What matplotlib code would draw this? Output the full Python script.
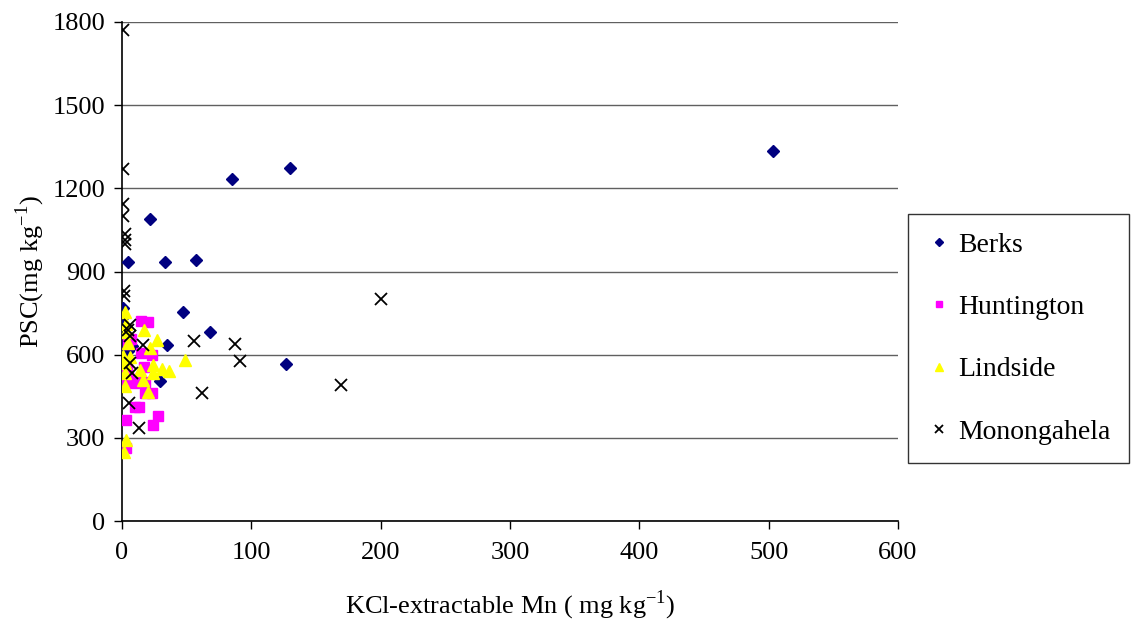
import matplotlib.pyplot as plt

plt.rcParams['font.family'] = ['Liberation Serif', 'DejaVu Serif']
plt.rcParams['mathtext.fontset'] = 'custom'
plt.rcParams['mathtext.rm'] = 'Liberation Serif'

# KCl-extractable Mn (x) and PSC (y), mg/kg
berks_x = [503, 130, 85, 22, 57, 33, 5, 47, 68, 35, 29, 127, 1, 1, 1, 8, 5]
berks_y = [1333, 1272, 1235, 1088, 940, 936, 933, 755, 680, 636, 505, 567, 770, 737, 636, 632, 615]

hunt_x = [15, 20, 7, 5, 15, 23, 4, 17, 4, 5, 10, 18, 3, 9, 18, 23, 10, 13, 3, 28, 24, 3]
hunt_y = [720, 718, 655, 640, 605, 600, 565, 557, 540, 522, 512, 503, 503, 498, 463, 463,
          412, 412, 365, 380, 347, 265]

lind_x = [2, 3, 17, 3, 27, 5, 22, 1, 6, 2, 49, 24, 31, 36, 24, 14, 2, 16, 2, 20, 3, 1.5]
lind_y = [755, 710, 690, 680, 652, 643, 625, 595, 590, 570, 582, 563, 548, 540, 535, 546,
          535, 510, 488, 467, 292, 248]

mono_x = [0.5, 1, 0.5, 0.5, 2, 2, 2, 1.5, 1.5, 6, 5, 6, 16.5, 56, 87, 91, 62, 169, 200,
          6, 7.5, 5.4, 13]
mono_y = [1770, 1268, 1142, 1100, 1034, 1015, 998, 829, 811, 708, 690, 667, 636, 650, 640,
          578, 461, 491, 800, 571, 535, 425, 337]

xticks = [0, 100, 200, 300, 400, 500, 600]
yticks = [0, 300, 600, 900, 1200, 1500, 1800]

fig = plt.figure(figsize=(11.35, 6.32), dpi=100)
ax = fig.add_axes([122 / 1135, 111 / 632, 776 / 1135, 499 / 632])

ax.plot(berks_x, berks_y, 'D', color='#000080', markersize=6.5, linestyle='none',
        label='Berks', zorder=3)
ax.plot(hunt_x, hunt_y, 's', color='#ff00ff', markersize=7, linestyle='none',
        label='Huntington', zorder=3)
ax.plot(lind_x, lind_y, '^', color='#ffff00', markersize=8.5, linestyle='none',
        label='Lindside', zorder=3)
ax.plot(mono_x, mono_y, 'x', color='black', markersize=8, markeredgewidth=1.3,
        linestyle='none', label='Monongahela', zorder=4)

ax.set_xlim(0, 600)
ax.set_ylim(0, 1800)
ax.set_xticks(xticks)
ax.set_yticks(yticks)
ax.tick_params(labelsize=19, direction='out', length=6, width=1)
ax.tick_params(axis='x', pad=9)
ax.tick_params(axis='y', pad=6)
ax.yaxis.grid(True, color='#606060', linewidth=1)
ax.set_axisbelow(True)
for s in ['top', 'right']:
    ax.spines[s].set_visible(False)
for s in ['left', 'bottom']:
    ax.spines[s].set_linewidth(1.2)

ax.set_ylabel('PSC(mg kg$^{\\mathrm{-1}}$)', fontsize=19, labelpad=4)
ax.set_xlabel('KCl-extractable Mn ( mg kg$^{\\mathrm{-1}}$)', fontsize=19, labelpad=18)

leg = fig.legend(loc='upper left', bbox_to_anchor=(908 / 1135, 1 - 214 / 632),
                 fontsize=20, frameon=True, fancybox=False, edgecolor='black',
                 handletextpad=0.27, labelspacing=1.33, borderpad=0.65,
                 handlelength=0.9, markerscale=0.7, borderaxespad=0)
leg.get_frame().set_linewidth(1)

fig.savefig('out.png', dpi=100)
